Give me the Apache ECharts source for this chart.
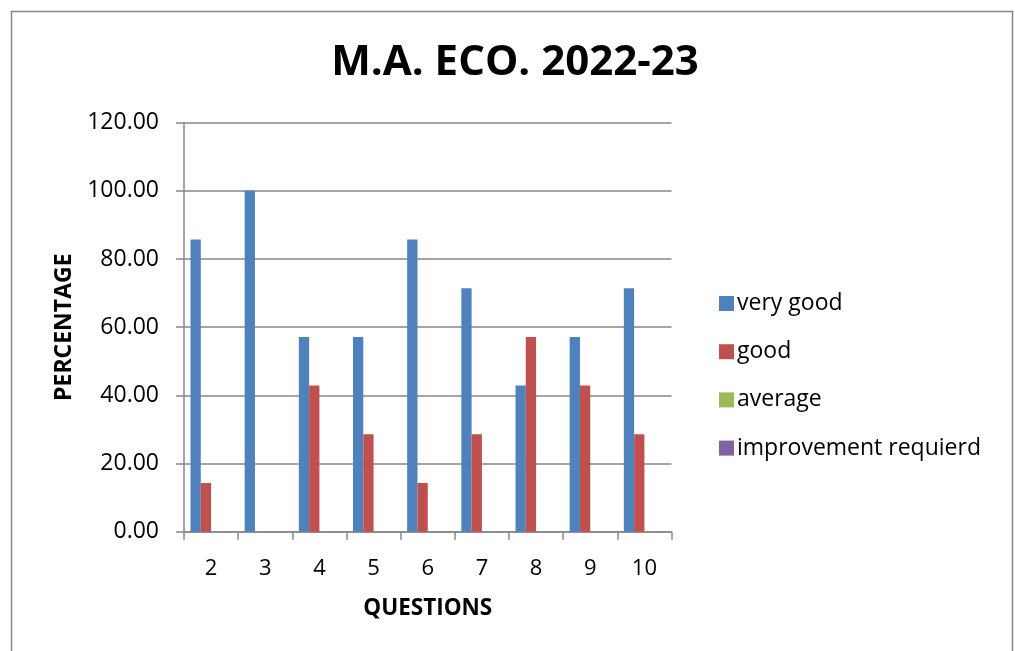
<!DOCTYPE html>
<html>
<head>
<meta charset="utf-8">
<script src="https://cdn.jsdelivr.net/npm/echarts@6/dist/echarts.min.js"></script>
<style>
html,body{margin:0;padding:0;background:#fff;}
#c{width:1015px;height:651px;}
</style>
</head>
<body>
<div id="c"></div>
<script>
const categories = ['2','3','4','5','6','7','8','9','10'];
const veryGood = [85.71, 100, 57.14, 57.14, 85.71, 71.43, 42.86, 57.14, 71.43];
const good = [14.29, 0, 42.86, 28.57, 14.29, 28.57, 57.14, 42.86, 28.57];
const average = [0, 0, 0, 0, 0, 0, 0, 0, 0];
const improvement = [0, 0, 0, 0, 0, 0, 0, 0, 0];
const seriesNames = ['very good', 'good', 'average', 'improvement requierd'];
const colors = ['#4F81BD', '#C0504D', '#9BBB59', '#8064A2'];

const FONT = 'Open Sans';
const chart = echarts.init(document.getElementById('c'), null, {renderer: 'canvas'});
const mk = (name, data, i) => ({
  name: name, type: 'bar', data: data,
  barGap: '0%', barCategoryGap: '24%',
  itemStyle: {color: colors[i]}
});
chart.setOption({
  animation: false,
  backgroundColor: '#fff',
  color: colors,
  title: {
    text: 'M.A. ECO. 2022-23',
    left: 510, top: 37, textAlign: 'center',
    textStyle: {fontFamily: FONT, fontWeight: 'bold', fontSize: 42, color: '#000'}
  },
  graphic: [{
    type: 'rect', shape: {x: 11.5, y: 11.5, width: 1001, height: 660},
    style: {fill: 'none', stroke: '#868686', lineWidth: 1.5}
  }],
  legend: {
    orient: 'vertical', left: 714, top: 287,
    itemWidth: 15, itemHeight: 15, itemGap: 25.2,
    icon: 'rect',
    textStyle: {fontFamily: FONT, fontSize: 23, color: '#000', padding: [0,0,0,-2]},
    data: seriesNames
  },
  grid: {left: 184, right: 343.5, top: 122.7, bottom: 119.3, containLabel: false},
  xAxis: {
    type: 'category', data: categories,
    name: 'QUESTIONS', nameLocation: 'middle', nameGap: 65,
    nameTextStyle: {fontFamily: FONT, fontWeight: 'bold', fontSize: 22.5, color: '#000'},
    axisLine: {lineStyle: {color: '#868686', width: 1.5}},
    axisTick: {show: true, length: 8, lineStyle: {color: '#868686', width: 1.5}},
    axisLabel: {fontFamily: FONT, fontSize: 22, color: '#000', margin: 26}
  },
  yAxis: {
    type: 'value', min: 0, max: 120, interval: 20,
    name: 'PERCENTAGE', nameLocation: 'middle', nameGap: 108, nameRotate: 90,
    nameTextStyle: {fontFamily: FONT, fontWeight: 'bold', fontSize: 23, color: '#000'},
    axisLine: {show: true, lineStyle: {color: '#868686', width: 1.5}},
    axisTick: {show: true, length: 8, lineStyle: {color: '#868686', width: 1.5}},
    splitLine: {lineStyle: {color: '#868686', width: 1.5}},
    axisLabel: {fontFamily: FONT, fontSize: 23, color: '#000', margin: 25,
      formatter: v => v.toFixed(2)}
  },
  series: [
    mk(seriesNames[0], veryGood, 0),
    mk(seriesNames[1], good, 1),
    mk(seriesNames[2], average, 2),
    mk(seriesNames[3], improvement, 3)
  ]
});
</script>
</body>
</html>
